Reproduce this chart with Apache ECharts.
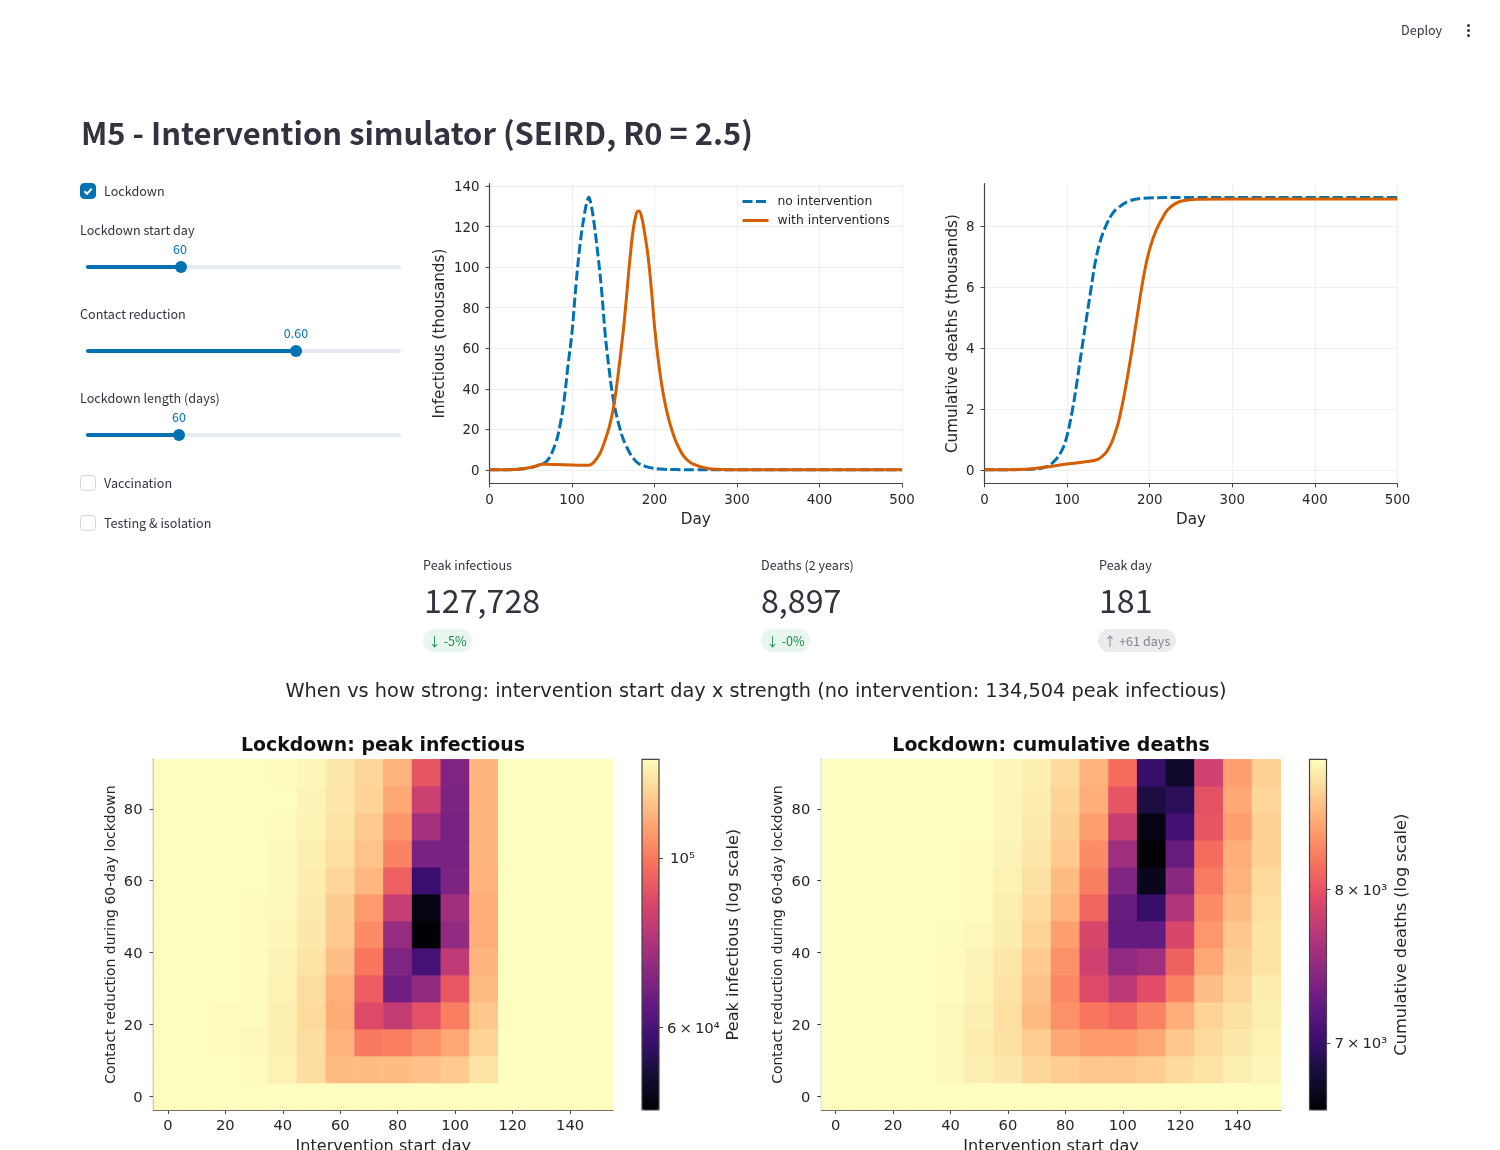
<!DOCTYPE html>
<html>
<head>
<meta charset="utf-8">
<title>M5 - Intervention simulator</title>
<script src="https://cdn.jsdelivr.net/npm/echarts@6/dist/echarts.min.js"></script>
<style>
  html, body { margin: 0; padding: 0; background: #fff; }
  #page { position: relative; width: 1500px; height: 1150px; overflow: hidden; font-family: "Noto Sans CJK SC", "Noto Sans", sans-serif; color: #31333f; }
  #chart { position: absolute; left: 0; top: 0; width: 1500px; height: 1150px; }
  .t { position: absolute; white-space: nowrap; line-height: 1; }
  .lab { font-size: 12.6px; transform: translateY(-50%); }
  .val { font-size: 12.5px; color: #0072b2; transform: translate(-50%, -50%); }
  .track { position: absolute; left: 86px; width: 315px; height: 4px; background: #e6eaf1; border-radius: 2px; }
  .fill { position: absolute; left: 0; top: 0; height: 4px; background: #0072b2; border-radius: 2px; }
  .knob { position: absolute; top: -4px; width: 12px; height: 12px; margin-left: -6px; border-radius: 50%; background: #0072b2; }
  .box { position: absolute; left: 80px; width: 14px; height: 14px; border: 1px solid #d5d6da; border-radius: 4px; background: #fff; }
  .box.on { background: #0072b2; border-color: #0072b2; }
  .metric { font-size: 32.2px; font-weight: 400; transform: translateY(-50%); }
  .pill { position: absolute; height: 23px; line-height: 23px; border-radius: 12px; font-size: 12.6px; text-align: center; white-space: nowrap; }
</style>
</head>
<body>
<div id="page">
  <div id="chart"></div>

  <div class="t lab" style="left:1401px;top:30px">Deploy</div>
  <div style="position:absolute;left:1467px;top:24px;width:3px;height:3px;border-radius:50%;background:#31333f"></div>
  <div style="position:absolute;left:1467px;top:29px;width:3px;height:3px;border-radius:50%;background:#31333f"></div>
  <div style="position:absolute;left:1467px;top:34px;width:3px;height:3px;border-radius:50%;background:#31333f"></div>

  <div class="t" style="left:81px;top:131.5px;font-size:30.9px;font-weight:600;transform:translateY(-50%)">M5 - Intervention simulator (SEIRD, R0 = 2.5)</div>

  <div class="box on" style="top:183px">
    <svg width="14" height="14" viewBox="0 0 14 14" style="display:block"><path d="M3.4 7.2 L6 9.8 L10.8 4.6" fill="none" stroke="#fff" stroke-width="2"/></svg>
  </div>
  <div class="t lab" style="left:104px;top:191px">Lockdown</div>

  <div class="t lab" style="left:80px;top:230px">Lockdown start day</div>
  <div class="t val" style="left:180px;top:249px">60</div>
  <div class="track" style="top:265px"><div class="fill" style="width:95px"></div><div class="knob" style="left:95px"></div></div>

  <div class="t lab" style="left:80px;top:314px">Contact reduction</div>
  <div class="t val" style="left:296px;top:333px">0.60</div>
  <div class="track" style="top:349px"><div class="fill" style="width:210px"></div><div class="knob" style="left:210px"></div></div>

  <div class="t lab" style="left:80px;top:398px">Lockdown length (days)</div>
  <div class="t val" style="left:179px;top:417px">60</div>
  <div class="track" style="top:433px"><div class="fill" style="width:93px"></div><div class="knob" style="left:93px"></div></div>

  <div class="box" style="top:475px"></div>
  <div class="t lab" style="left:104px;top:483px">Vaccination</div>
  <div class="box" style="top:515px"></div>
  <div class="t lab" style="left:104px;top:523px">Testing &amp; isolation</div>

  <div class="t lab" style="left:423px;top:565px">Peak infectious</div>
  <div class="t metric" style="left:424px;top:599px">127,728</div>
  <div class="pill" style="left:423px;top:629px;width:49px;background:#e8f7ee;color:#1d8a4e">↓ -5%</div>

  <div class="t lab" style="left:761px;top:565px">Deaths (2 years)</div>
  <div class="t metric" style="left:761px;top:599px">8,897</div>
  <div class="pill" style="left:761px;top:629px;width:49px;background:#e8f7ee;color:#1d8a4e">↓ -0%</div>

  <div class="t lab" style="left:1099px;top:565px">Peak day</div>
  <div class="t metric" style="left:1099px;top:599px">181</div>
  <div class="pill" style="left:1098px;top:629px;width:78px;background:#ebebec;color:#808495">↑ +61 days</div>
</div>

<script>
// curves (thousands)
const noInterventionDays = [0, 20, 30, 40, 50, 60, 70, 80, 85, 90, 95, 100, 105, 110, 115, 118, 120.5, 123, 126, 132, 136, 140, 144, 150, 158, 166, 178, 190, 207, 225, 250, 280, 500];
const noInterventionInfectious = [0, 0.05, 0.2, 0.5, 1.1, 2.3, 4.5, 13, 21, 33, 51, 68, 92, 112, 126, 132, 134.5, 131, 124, 104, 88, 68, 53, 35, 20.5, 11.5, 4, 1.6, 0.4, 0.1, 0.02, 0, 0];
const withInterventionDays = [0, 30, 40, 50, 55, 60, 63, 70, 80, 100, 120, 122, 125, 130, 135, 140, 145, 150, 154, 158, 162, 166, 170, 174, 178, 181, 184, 188, 192, 196, 200, 204, 208, 212, 216, 220, 225, 230, 235, 240, 247, 263, 280, 300, 500];
const withInterventionInfectious = [0, 0.15, 0.5, 1.1, 1.7, 2.4, 2.7, 2.7, 2.6, 2.4, 2.2, 2.4, 3.2, 5.5, 9, 14.5, 21, 30, 41, 54, 68, 85, 103, 118, 126.5, 127.7, 125.5, 117, 106, 90, 71, 56, 44, 34.5, 27, 21, 15, 10.5, 7, 4.8, 2.8, 0.8, 0.2, 0.02, 0];

const noInterventionDeathDays = [0, 50, 75, 85, 92, 98, 106, 112, 118, 124, 129, 134, 140, 148, 154, 160, 176, 197, 240, 500];
const noInterventionDeaths = [0, 0.01, 0.1, 0.3, 0.55, 0.93, 1.9, 2.9, 4.0, 5.08, 5.95, 6.8, 7.5, 8.08, 8.38, 8.57, 8.84, 8.93, 8.95, 8.95];
const withInterventionDeathDays = [0, 50, 63, 80, 100, 124, 136, 142, 148, 154, 158, 162, 168, 174, 180, 186, 192, 198, 204, 210, 216, 222, 230, 240, 257, 300, 500];
const withInterventionDeaths = [0, 0.02, 0.05, 0.11, 0.19, 0.27, 0.33, 0.43, 0.6, 0.9, 1.2, 1.55, 2.3, 3.2, 4.2, 5.25, 6.25, 7.05, 7.6, 8.0, 8.3, 8.55, 8.73, 8.84, 8.89, 8.897, 8.897];

// tick labels
const dayTicks = [0, 100, 200, 300, 400, 500];
const infectiousTicks = [0, 20, 40, 60, 80, 100, 120, 140];
const deathTicks = [0, 2, 4, 6, 8];
const startDayTicks = [0, 20, 40, 60, 80, 100, 120, 140];
const reductionTicks = [0, 20, 40, 60, 80];

// heatmap axes: start day per column, contact reduction (%) per row
const startDays = [0, 10, 20, 30, 40, 50, 60, 70, 80, 90, 100, 110, 120, 130, 140, 150];
const reductions = [0, 7.5, 15, 22.5, 30, 37.5, 45, 52.5, 60, 67.5, 75, 82.5, 90];

// peak infectious in thousands, one row per reduction, bottom row first
const peakInfectious = [
  [134.5, 134.5, 134.5, 134.5, 134.5, 134.5, 134.5, 134.5, 134.5, 134.5, 134.5, 134.5, 134.5, 134.5, 134.5, 134.5],
  [134.5, 134.5, 134.5, 133.8, 131.0, 125.0, 116.0, 116.0, 116.0, 117.3, 119.8, 126.9, 134.5, 134.5, 134.5, 134.5],
  [134.5, 134.5, 134.0, 133.4, 130.3, 124.9, 113.6, 100.1, 101.2, 105.5, 111.2, 122.3, 134.5, 134.5, 134.5, 134.5],
  [134.5, 134.5, 134.0, 133.8, 130.3, 124.2, 111.8, 88.2, 82.0, 90.1, 101.2, 119.1, 134.5, 134.5, 134.5, 134.5],
  [134.5, 134.5, 134.5, 134.0, 131.0, 124.9, 113.0, 93.0, 66.4, 72.3, 91.9, 116.0, 134.5, 134.5, 134.5, 134.5],
  [134.5, 134.5, 134.5, 134.0, 131.7, 126.9, 116.5, 99.1, 69.2, 59.7, 81.2, 114.2, 134.5, 134.5, 134.5, 134.5],
  [134.5, 134.5, 134.5, 134.0, 132.4, 128.2, 119.5, 104.4, 73.1, 46.9, 72.3, 112.4, 134.5, 134.5, 134.5, 134.5],
  [134.5, 134.5, 134.5, 134.0, 132.8, 128.9, 120.0, 107.8, 82.9, 48.4, 75.0, 112.4, 134.5, 134.5, 134.5, 134.5],
  [134.5, 134.5, 134.5, 134.5, 133.1, 129.6, 123.0, 114.8, 93.9, 57.9, 68.6, 113.6, 134.5, 134.5, 134.5, 134.5],
  [134.5, 134.5, 134.5, 134.5, 133.1, 130.3, 125.5, 117.9, 102.2, 67.9, 67.9, 114.2, 134.5, 134.5, 134.5, 134.5],
  [134.5, 134.5, 134.5, 134.5, 133.5, 131.4, 126.9, 119.8, 106.6, 75.4, 68.2, 114.2, 134.5, 134.5, 134.5, 134.5],
  [134.5, 134.5, 134.5, 134.5, 134.5, 131.7, 127.6, 122.3, 111.2, 83.7, 68.6, 114.2, 134.5, 134.5, 134.5, 134.5],
  [134.5, 134.5, 134.5, 134.5, 134.0, 132.4, 128.2, 123.0, 113.6, 91.0, 69.2, 114.2, 134.5, 134.5, 134.5, 134.5]
];

// cumulative deaths, same layout
const cumulativeDeaths = [
  [8954, 8954, 8954, 8954, 8954, 8954, 8954, 8954, 8954, 8954, 8954, 8954, 8954, 8954, 8954, 8954],
  [8954, 8954, 8954, 8954, 8927, 8873, 8832, 8739, 8673, 8647, 8647, 8673, 8752, 8805, 8873, 8913],
  [8954, 8954, 8954, 8954, 8927, 8860, 8792, 8673, 8478, 8401, 8401, 8478, 8647, 8752, 8832, 8886],
  [8954, 8954, 8954, 8954, 8927, 8873, 8778, 8581, 8350, 8200, 8125, 8275, 8504, 8712, 8792, 8873],
  [8954, 8954, 8954, 8954, 8940, 8886, 8805, 8607, 8300, 7931, 7717, 7955, 8275, 8594, 8739, 8860],
  [8954, 8954, 8954, 8954, 8940, 8900, 8819, 8660, 8350, 7835, 7484, 7553, 8076, 8478, 8686, 8805],
  [8954, 8954, 8954, 8954, 8947, 8927, 8860, 8712, 8427, 7883, 7238, 7238, 7883, 8376, 8647, 8805],
  [8954, 8954, 8954, 8954, 8954, 8940, 8873, 8752, 8529, 8101, 7260, 7000, 7670, 8325, 8581, 8778],
  [8954, 8954, 8954, 8954, 8954, 8940, 8886, 8792, 8581, 8250, 7394, 6706, 7439, 8225, 8529, 8752],
  [8954, 8954, 8954, 8954, 8954, 8940, 8900, 8819, 8660, 8325, 7553, 6605, 7260, 8150, 8504, 8699],
  [8954, 8954, 8954, 8954, 8954, 8954, 8913, 8846, 8686, 8427, 7788, 6665, 7064, 8003, 8427, 8699],
  [8954, 8954, 8954, 8954, 8954, 8954, 8920, 8860, 8712, 8504, 8003, 6851, 6935, 7979, 8478, 8725],
  [8954, 8954, 8954, 8954, 8954, 8954, 8920, 8873, 8752, 8529, 8150, 7000, 6767, 7835, 8427, 8699]
];

// colorbar ranges and ticks
const peakRange = [46850, 134504];
const deathsRange = [6605, 8954];
const peakMajorTicks = [60000, 100000];
const peakMajorLabels = ['6\u2009×\u200910⁴', '\u200910⁵'];
const peakMinorTicks = [70000, 80000, 90000];
const deathsMajorTicks = [7000, 8000];
const deathsMajorLabels = ['7\u2009×\u200910³', '8\u2009×\u200910³'];

const magma = ['#000004', '#140e36', '#3b0f70', '#641a80', '#8c2981', '#b73779', '#de4968', '#f7705c', '#fe9f6d', '#fecf92', '#fcfdbf'];
const BLUE = '#0072b2', ORANGE = '#d55e00';
const INK = '#262626', SPINE = '#444';
const FONT = '"DejaVu Sans"';

const chart = echarts.init(document.getElementById('chart'));

const zip = (xs, ys) => xs.map((x, i) => [x, ys[i]]);

function valueAxis(gridIndex, position, min, max, ticks, name, nameGap, fontSize, nameSize, margin) {
  const vertical = position === 'left' || position === 'right';
  const axisLabel = { show: true, color: INK, fontFamily: FONT, fontSize, margin, customValues: ticks, hideOverlap: false };
  if (vertical) {
    // nudges the tick text down onto its tick, as in the reference
    axisLabel.rich = { a: { color: INK, fontFamily: FONT, fontSize, padding: [3, 0, 0, 0] } };
    axisLabel.formatter = (v) => `{a|${v}}`;
  }
  return {
    type: 'value', gridIndex, position, min, max, name, nameGap,
    nameLocation: 'middle',
    nameTextStyle: { color: INK, fontFamily: FONT, fontSize: nameSize },
    axisLine: { show: true, onZero: false, lineStyle: { color: SPINE, width: 1.2 } },
    axisTick: { show: true, length: 4, customValues: ticks, lineStyle: { color: SPINE, width: 1 } },
    axisLabel,
    splitLine: { show: false }
  };
}

function lineAxis(gridIndex, position, min, max, ticks, name, nameGap, nameSize, margin) {
  const axis = valueAxis(gridIndex, position, min, max, ticks, name, nameGap, 13.4, nameSize, margin);
  axis.splitLine = { show: true, lineStyle: { color: '#efefef', width: 1 } };
  return axis;
}

function curve(name, xIndex, yIndex, data, color, dashed) {
  return {
    name, type: 'line', xAxisIndex: xIndex, yAxisIndex: yIndex, data,
    symbol: 'none', smooth: 0.4, silent: true,
    lineStyle: { color, width: 3, type: dashed ? [10, 3.5] : 'solid' },
    itemStyle: { color },
    z: dashed ? 2 : 3
  };
}

function heat(xIndex, yIndex, rows, scale) {
  const data = [];
  rows.forEach((row, j) => row.forEach((v, i) => data.push([i, j, Math.log10(v * scale)])));
  return {
    type: 'heatmap', xAxisIndex: xIndex, yAxisIndex: yIndex, data, silent: true,
    progressive: 0, itemStyle: { borderWidth: 0 }, emphasis: { disabled: true }
  };
}

function hiddenCategory(gridIndex, categories) {
  return { type: 'category', gridIndex, data: categories, show: false, boundaryGap: true };
}
function hiddenValue(gridIndex) {
  return { type: 'value', gridIndex, min: 0, max: 1, show: false };
}

function colorbarAxis(gridIndex, range, ticks, labels, name, nameGap) {
  const axis = valueAxis(gridIndex, 'right', Math.log10(range[0]), Math.log10(range[1]), ticks.map(Math.log10), name, nameGap, 14.9, 16.2, 8);
  axis.axisLine.show = false;
  axis.axisLabel.formatter = (v) => `{a|${labels[ticks.findIndex(t => Math.abs(Math.log10(t) - v) < 1e-6)]}}`;
  axis.nameRotate = 90;
  return axis;
}

function colorbarMinor(gridIndex, range, ticks) {
  return {
    type: 'value', gridIndex, position: 'right',
    min: Math.log10(range[0]), max: Math.log10(range[1]),
    axisLine: { show: false }, splitLine: { show: false }, axisLabel: { show: false },
    axisTick: { show: true, length: 3, customValues: ticks.map(Math.log10), lineStyle: { color: SPINE, width: 1 } }
  };
}

function colorbarMap(seriesIndex, left, range) {
  return {
    type: 'continuous', seriesIndex, dimension: 2, show: true,
    min: Math.log10(range[0]), max: Math.log10(range[1]),
    left, top: 759.3, itemWidth: 17, itemHeight: 350.7, padding: 0,
    calculable: false, hoverLink: false, inRange: { color: magma }
  };
}

const option = {
  animation: false,
  backgroundColor: '#fff',
  textStyle: { fontFamily: FONT },
  title: [
    { text: 'When vs how strong: intervention start day x strength (no intervention: 134,504 peak infectious)', left: 756, top: 682, padding: 0, textAlign: 'center', textStyle: { color: INK, fontFamily: FONT, fontSize: 19.35, fontWeight: 'normal' } },
    { text: 'Lockdown: peak infectious', left: 383, top: 737, padding: 0, textAlign: 'center', textStyle: { color: '#111', fontFamily: FONT, fontSize: 18.9, fontWeight: 'bold' } },
    { text: 'Lockdown: cumulative deaths', left: 1051, top: 737, padding: 0, textAlign: 'center', textStyle: { color: '#111', fontFamily: FONT, fontSize: 18.9, fontWeight: 'bold' } }
  ],
  legend: {
    data: ['no intervention', 'with interventions'],
    left: 741, top: 195.5, orient: 'vertical', itemGap: 7, itemWidth: 26, itemHeight: 14, padding: 0,
    selectedMode: false,
    itemStyle: { opacity: 0 },
    lineStyle: { width: 3 },
    textStyle: { color: INK, fontFamily: FONT, fontSize: 12.4, padding: [0, 0, 0, 4] }
  },
  grid: [
    { left: 489.5, top: 183.7, width: 412.5, height: 299.7, outerBoundsMode: 'none' },
    { left: 984.5, top: 183.7, width: 413, height: 299.7, outerBoundsMode: 'none' },
    { left: 153.5, top: 759.3, width: 459.7, height: 350.7, outerBoundsMode: 'none' },
    { left: 642, top: 759.3, width: 17, height: 350.7, show: true, borderColor: SPINE, borderWidth: 1.2, backgroundColor: 'transparent', z: 6, outerBoundsMode: 'none' },
    { left: 821.3, top: 759.3, width: 459.4, height: 350.7, outerBoundsMode: 'none' },
    { left: 1309.5, top: 759.3, width: 17, height: 350.7, show: true, borderColor: SPINE, borderWidth: 1.2, backgroundColor: 'transparent', z: 6, outerBoundsMode: 'none' }
  ],
  xAxis: [
    lineAxis(0, 'bottom', 0, 500, dayTicks, 'Day', 29, 15.2, 11),
    lineAxis(1, 'bottom', 0, 500, dayTicks, 'Day', 29, 15.2, 11),
    hiddenCategory(2, startDays),
    valueAxis(2, 'bottom', -5, 155, startDayTicks, 'Intervention start day', 29, 14.7, 16.1, 9),
    hiddenValue(3),
    hiddenCategory(4, startDays),
    valueAxis(4, 'bottom', -5, 155, startDayTicks, 'Intervention start day', 29, 14.7, 16.1, 9),
    hiddenValue(5)
  ],
  yAxis: [
    lineAxis(0, 'left', -6.7, 141.2, infectiousTicks, 'Infectious (thousands)', 42, 15.2, 10),
    lineAxis(1, 'left', -0.447, 9.4, deathTicks, 'Cumulative deaths (thousands)', 23.5, 15.2, 10),
    hiddenCategory(2, reductions),
    valueAxis(2, 'left', -3.75, 93.75, reductionTicks, 'Contact reduction during 60-day lockdown', 35, 14.7, 14, 11),
    colorbarAxis(3, peakRange, peakMajorTicks, peakMajorLabels, 'Peak infectious (log scale)', 67),
    colorbarMinor(3, peakRange, peakMinorTicks),
    hiddenCategory(4, reductions),
    valueAxis(4, 'left', -3.75, 93.75, reductionTicks, 'Contact reduction during 60-day lockdown', 36, 14.7, 14, 11),
    colorbarAxis(5, deathsRange, deathsMajorTicks, deathsMajorLabels, 'Cumulative deaths (log scale)', 67)
  ],
  visualMap: [
    colorbarMap(4, 642, peakRange),
    colorbarMap(5, 1309.5, deathsRange)
  ],
  series: [
    curve('no intervention', 0, 0, zip(noInterventionDays, noInterventionInfectious), BLUE, true),
    curve('with interventions', 0, 0, zip(withInterventionDays, withInterventionInfectious), ORANGE, false),
    curve('no intervention', 1, 1, zip(noInterventionDeathDays, noInterventionDeaths), BLUE, true),
    curve('with interventions', 1, 1, zip(withInterventionDeathDays, withInterventionDeaths), ORANGE, false),
    heat(2, 2, peakInfectious, 1000),
    heat(5, 6, cumulativeDeaths, 1)
  ]
};

chart.setOption(option);
</script>
</body>
</html>
